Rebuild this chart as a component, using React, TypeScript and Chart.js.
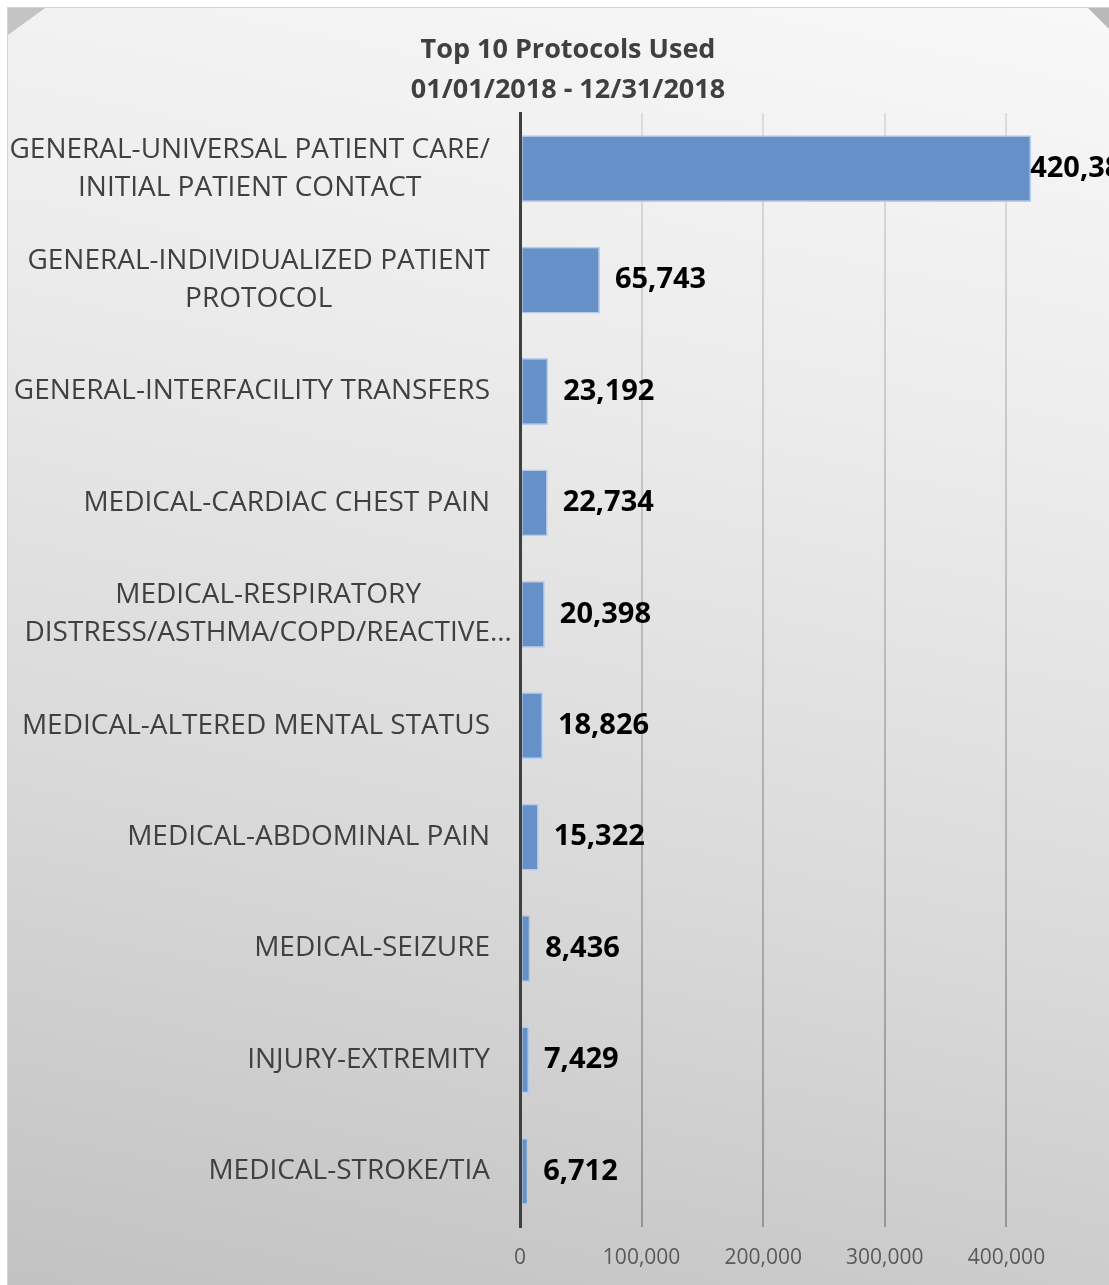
import React, { useEffect, useRef } from "react";
import { Chart, registerables } from "chart.js";

Chart.register(...registerables);

// ---- data ----
const TITLE_LINES = ["Top 10 Protocols Used", "01/01/2018 - 12/31/2018"];

const CATEGORIES: string[][] = [
  ["GENERAL-UNIVERSAL PATIENT CARE/", "INITIAL PATIENT CONTACT"],
  ["GENERAL-INDIVIDUALIZED PATIENT", "PROTOCOL"],
  ["GENERAL-INTERFACILITY TRANSFERS"],
  ["MEDICAL-CARDIAC CHEST PAIN"],
  ["MEDICAL-RESPIRATORY", "DISTRESS/ASTHMA/COPD/REACTIVE…"],
  ["MEDICAL-ALTERED MENTAL STATUS"],
  ["MEDICAL-ABDOMINAL PAIN"],
  ["MEDICAL-SEIZURE"],
  ["INJURY-EXTREMITY"],
  ["MEDICAL-STROKE/TIA"],
];

const VALUES: number[] = [420382, 65743, 23192, 22734, 20398, 18826, 15322, 8436, 7429, 6712];

const X_MIN = 0;
const X_MAX = 500000;
const X_STEP = 100000;

// ---- styles ----
const FONT = '"Open Sans", "Noto Sans", sans-serif';
const CAT_FONT_SIZE = 28;
const CAT_LINE_H = 38;
const LABEL_GAP = 30;
const VALUE_FONT_SIZE = 29;
const VALUE_OFFSET = 15;
const CANVAS_W = 1120;
const CANVAS_H = 1277;

const fmt = (v: number) => Number(v).toLocaleString("en-US");

const decorPlugin = {
  id: "decor",
  beforeDraw(chart: any) {
    const ctx = chart.ctx;
    ctx.save();
    ctx.fillStyle = "#c4c4c4";
    ctx.beginPath();
    ctx.moveTo(0, 0);
    ctx.lineTo(37, 0);
    ctx.lineTo(0, 27);
    ctx.closePath();
    ctx.fill();
    ctx.fillStyle = "#b9b9b9";
    ctx.beginPath();
    ctx.moveTo(1080, 0);
    ctx.lineTo(1120, 0);
    ctx.lineTo(1120, 40);
    ctx.closePath();
    ctx.fill();
    ctx.restore();
  },
};

const catLabelPlugin = {
  id: "catLabels",
  afterDraw(chart: any) {
    const ctx = chart.ctx;
    const yScale = chart.scales.y;
    const right = chart.chartArea.left - LABEL_GAP;
    ctx.save();
    ctx.font = `${CAT_FONT_SIZE}px ${FONT}`;
    ctx.fillStyle = "#404040";
    ctx.textBaseline = "middle";
    ctx.textAlign = "center";
    CATEGORIES.forEach((lines, i) => {
      const cy = yScale.getPixelForValue(i);
      const widths = lines.map((l) => ctx.measureText(l).width);
      const coreW = lines.map((l) => ctx.measureText(l.replace(/…$/, "")).width);
      const blockLeft = right - Math.max(...coreW);
      const blockW = Math.max(...widths);
      const cx = blockLeft + blockW / 2;
      const n = lines.length;
      lines.forEach((l, j) => {
        ctx.fillText(l, cx, cy + (j - (n - 1) / 2) * CAT_LINE_H);
      });
    });
    ctx.restore();
  },
};

const valueLabelPlugin = {
  id: "valueLabels",
  afterDatasetsDraw(chart: any) {
    const ctx = chart.ctx;
    const meta = chart.getDatasetMeta(0);
    ctx.save();
    ctx.font = `bold ${VALUE_FONT_SIZE}px ${FONT}`;
    ctx.fillStyle = "#000000";
    ctx.textBaseline = "middle";
    ctx.textAlign = "left";
    meta.data.forEach((bar: any, i: number) => {
      const text = fmt(VALUES[i]);
      const w = ctx.measureText(text).width;
      let x = bar.x + VALUE_OFFSET;
      if (x + w > chart.width) x = bar.x - 1;
      ctx.fillText(text, x, bar.y);
    });
    ctx.restore();
  },
};

export default function App() {
  const ref = useRef<HTMLCanvasElement | null>(null);

  useEffect(() => {
    document.documentElement.style.overflow = "hidden";
    const canvas = ref.current;
    if (!canvas) return;
    Chart.defaults.font.family = FONT;
    const chart = new Chart(canvas, {
      type: "bar",
      data: {
        labels: CATEGORIES,
        datasets: [
          {
            data: VALUES,
            backgroundColor: "#6591c8",
            borderColor: "rgba(176,203,236,0.95)",
            borderWidth: 1.5,
            borderSkipped: false,
            barPercentage: 0.6,
            categoryPercentage: 1.0,
          },
        ],
      },
      options: {
        indexAxis: "y",
        responsive: false,
        maintainAspectRatio: false,
        animation: false,
        devicePixelRatio: 1,
        layout: { padding: 0 },
        plugins: {
          legend: { display: false },
          tooltip: { enabled: false },
          title: {
            display: true,
            text: TITLE_LINES,
            color: "#404040",
            font: { family: FONT, size: 27, weight: "bold", lineHeight: "40px" },
            padding: { top: 22, bottom: 3 },
          },
        },
        scales: {
          x: {
            type: "linear",
            min: X_MIN,
            max: X_MAX,
            ticks: {
              stepSize: X_STEP,
              color: "#595959",
              font: { family: FONT, size: 21, lineHeight: "63px" },
              padding: 0,
              callback: (v: any) => (Number(v) >= X_MAX ? "" : fmt(Number(v))),
            },
            grid: {
              drawTicks: false,
              lineWidth: 2,
              color: (c: any) => {
                const area = c.chart.chartArea;
                if (!area) return "#c0c0c0";
                const g = c.chart.ctx.createLinearGradient(0, area.top, 0, area.bottom);
                g.addColorStop(0, "#dcdcdc");
                g.addColorStop(1, "#969696");
                return g;
              },
            },
            border: { display: false },
            afterFit: (scale: any) => {
              scale.height = 58;
            },
          },
          y: {
            type: "category",
            ticks: { display: false },
            grid: { display: false, drawTicks: false },
            border: { display: true, color: "#404040", width: 3, z: 1 },
            afterFit: (scale: any) => {
              scale.width = 512;
            },
          },
        },
      },
      plugins: [decorPlugin, valueLabelPlugin, catLabelPlugin],
    } as any);
    return () => chart.destroy();
  }, []);

  return (
    <div
      style={{
        position: "fixed",
        left: 7,
        top: 7,
        right: 0,
        bottom: 0,
        borderLeft: "1px solid #d2d2d2",
        borderTop: "1px solid #d2d2d2",
        overflow: "hidden",
        background: "linear-gradient(192deg, #f8f8f8 0%, #ececec 30%, #d9d9d9 65%, #c2c2c2 100%)",
      }}
    >
      <canvas ref={ref} width={CANVAS_W} height={CANVAS_H} style={{ display: "block", width: CANVAS_W, height: CANVAS_H }} />
    </div>
  );
}
